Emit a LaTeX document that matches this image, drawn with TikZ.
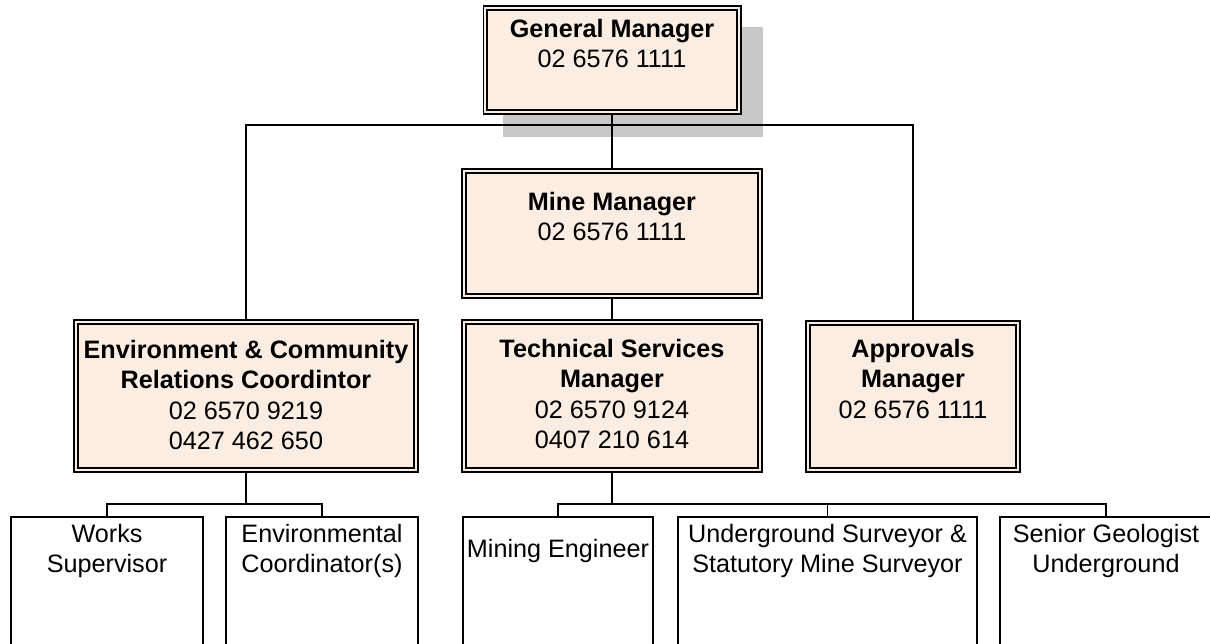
\documentclass[tikz,border=0pt]{standalone}
\usepackage{fontspec}
\setmainfont{Liberation Sans}
\definecolor{boxfill}{HTML}{FCEDE3}
\definecolor{shadowgray}{HTML}{C8C8C8}
\begin{document}
\begin{tikzpicture}[x=1pt,y=-1pt,
  mgr/.style={rectangle, draw=black, line width=1.8pt, double=boxfill, double distance=2pt, fill=boxfill, inner sep=0pt},
  sub/.style={rectangle, draw=black, line width=1.8pt, fill=white, inner sep=0pt},
  lbl/.style={anchor=north, align=center, inner sep=0pt, font=\fontsize{25.2}{30.3}\selectfont},
  conn/.style={line width=1.8pt}]
\useasboundingbox (0,0) rectangle (1210,643);
\clip (0,0) rectangle (1210,643);
\fill[white] (0,0) rectangle (1210,643);
% shadow of general manager box
\fill[shadowgray] (503,27) rectangle (763,137);
% manager boxes
\node[mgr, minimum width=253.4pt, minimum height=104.4pt] (gm) at (612,60) {};
\node[mgr, minimum width=296.4pt, minimum height=125.4pt] (mm) at (612,233.5) {};
\node[mgr, minimum width=340.4pt, minimum height=148.4pt] (env) at (246,396) {};
\node[mgr, minimum width=296.4pt, minimum height=148.4pt] (ts) at (612,396) {};
\node[mgr, minimum width=210.4pt, minimum height=147.4pt] (appr) at (913,396.5) {};
% subordinate boxes
\node[sub, minimum width=192.2pt, minimum height=200pt] (works) at (107,616.9) {};
\node[sub, minimum width=192.2pt, minimum height=200pt] (envc) at (322,616.9) {};
\node[sub, minimum width=190.2pt, minimum height=200pt] (mining) at (558,616.9) {};
\node[sub, minimum width=299.2pt, minimum height=200pt] (under) at (827.5,616.9) {};
\node[sub, minimum width=212.2pt, minimum height=200pt] (senior) at (1106,616.9) {};
% connectors
\coordinate (bus1) at (612,125);
\coordinate (bus2) at (246,504);
\coordinate (bus3) at (612,504);
\draw[conn] (gm.south) -- (mm.north);
\draw[conn] (env.north) |- (bus1) -| (appr.north);
\draw[conn] (mm.south) -- (ts.north);
\draw[line width=2.4pt] (env.south) -- (bus2);
\draw[conn] (works.north) |- (bus2) -| (envc.north);
\draw[conn] (ts.south) -- (bus3);
\draw[conn] (mining.north) |- (bus3) -| (senior.north);
\draw[conn] (under.north) -- (under.north |- bus3);
% labels
\node[lbl] (tgm) at (612,19) {\textbf{General Manager}\\02 6576 1111};
\node[lbl] (tmm) at (612,192) {\textbf{Mine Manager}\\02 6576 1111};
\node[lbl] (tenv) at (246,340) {\textbf{Environment \& Community}\\\textbf{Relations Coordintor}\\02 6570 9219\\0427 462 650};
\node[lbl] (tts) at (612,339) {\textbf{Technical Services}\\\textbf{Manager}\\02 6570 9124\\0407 210 614};
\node[lbl] (tappr) at (913,339) {\textbf{Approvals}\\\textbf{Manager}\\02 6576 1111};
\node[lbl] (tworks) at (107,524) {Works\\Supervisor};
\node[lbl] (tenvc) at (322,524) {Environmental\\Coordinator(s)};
\node[lbl] (tmining) at (558,539) {Mining Engineer};
\node[lbl] (tunder) at (827.5,524) {Underground Surveyor \&\\Statutory Mine Surveyor};
\node[lbl] (tsenior) at (1106,524) {Senior Geologist\\Underground};
\end{tikzpicture}
\end{document}
